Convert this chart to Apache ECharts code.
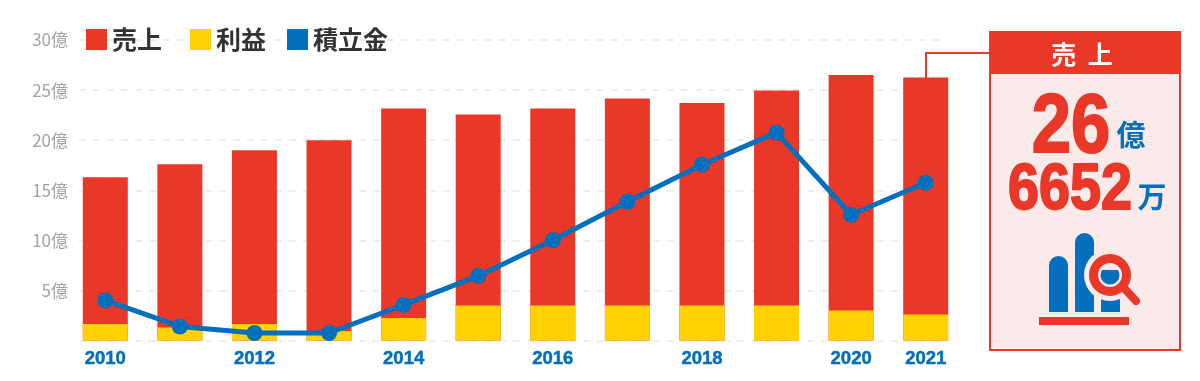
<!DOCTYPE html>
<html lang="ja">
<head>
<meta charset="utf-8">
<title>売上 利益 積立金</title>
<script src="https://cdn.jsdelivr.net/npm/echarts@6/dist/echarts.min.js"></script>
<style>
  html, body { margin: 0; padding: 0; background: #fff; }
  #chart { width: 1200px; height: 381px; }
</style>
</head>
<body>
<div id="chart"></div>
<script>
const years = ['2010', '2011', '2012', '2013', '2014', '2015', '2016', '2017', '2018', '2019', '2020', '2021']
const shownYears = ['2010', '2012', '2014', '2016', '2018', '2020', '2021']
const sales = [16.3, 17.6, 19.0, 20.0, 23.15, 22.55, 23.15, 24.15, 23.7, 24.95, 26.5, 26.25]
const profit = [1.65, 1.3, 1.65, 0.95, 2.25, 3.5, 3.5, 3.5, 3.5, 3.5, 3.0, 2.6]
const reserve = [4.0, 1.4, 0.75, 0.75, 3.55, 6.45, 10.0, 13.85, 17.55, 20.75, 12.55, 15.75]

const RED = '#e93828'
const YELLOW = '#ffd200'
const BLUE = '#0470bd'
const PANEL = '#faeaea'
const JP = '"Noto Sans CJK JP", "Noto Sans", sans-serif'
const LATIN = '"Liberation Sans", sans-serif'

const legendText = { fontFamily: JP, fontSize: 25, fontWeight: 'bold', color: '#333333', padding: [0, 0, 0, 0] }
const legendBase = { top: 27, padding: 0, itemWidth: 21, itemHeight: 21, itemGap: 0, icon: 'rect', selectedMode: false, textStyle: legendText }

// right hand callout, drawn on top of the chart
const calloutGraphic = [
  { type: 'polyline', shape: { points: [[926, 78], [926, 53], [990, 53]] }, style: { fill: 'none', stroke: RED, lineWidth: 2 } },
  { type: 'rect', shape: { x: 990, y: 32, width: 190, height: 318 }, style: { fill: PANEL, stroke: RED, lineWidth: 2 } },
  { type: 'rect', shape: { x: 989, y: 31, width: 192, height: 43 }, style: { fill: RED } },
  { type: 'text', style: { x: 1082, y: 54, text: '売  上', align: 'center', verticalAlign: 'middle', fontFamily: JP, fontSize: 25, fontWeight: 'bold', fill: '#fff' } },
  { type: 'text', x: 1071, y: 129, scaleX: 0.84, style: { x: 0, y: 0, text: '26', align: 'center', verticalAlign: 'middle', fontFamily: LATIN, fontSize: 84, fontWeight: 'bold', fill: RED, stroke: RED, lineWidth: 2 } },
  { type: 'text', style: { x: 1131, y: 135, text: '億', align: 'center', verticalAlign: 'middle', fontFamily: JP, fontSize: 29, fontWeight: 'bold', fill: BLUE } },
  { type: 'text', x: 1070, y: 191, scaleX: 0.87, style: { x: 0, y: 0, text: '6652', align: 'center', verticalAlign: 'middle', fontFamily: LATIN, fontSize: 64, fontWeight: 'bold', fill: RED, stroke: RED, lineWidth: 2 } },
  { type: 'text', style: { x: 1152, y: 197, text: '万', align: 'center', verticalAlign: 'middle', fontFamily: JP, fontSize: 29, fontWeight: 'bold', fill: BLUE } },
  // icon
  { type: 'rect', shape: { x: 1049, y: 256, width: 19, height: 56, r: [9.5, 9.5, 0, 0] }, style: { fill: BLUE } },
  { type: 'rect', shape: { x: 1075, y: 233, width: 19, height: 79, r: [9.5, 9.5, 0, 0] }, style: { fill: BLUE } },
  { type: 'rect', shape: { x: 1101, y: 295, width: 19, height: 17 }, style: { fill: BLUE } },
  { type: 'circle', shape: { cx: 1110, cy: 275, r: 26 }, style: { fill: PANEL } },
  { type: 'circle', shape: { cx: 1110, cy: 275, r: 9.5 }, style: { fill: BLUE } },
  { type: 'rect', shape: { x: 1098, y: 262, width: 24, height: 8 }, style: { fill: PANEL } },
  { type: 'circle', shape: { cx: 1110, cy: 275, r: 16.5 }, style: { fill: 'none', stroke: RED, lineWidth: 9 } },
  { type: 'line', shape: { x1: 1124, y1: 288, x2: 1136, y2: 301 }, style: { stroke: RED, lineWidth: 8, lineCap: 'round' } },
  { type: 'rect', shape: { x: 1039, y: 317, width: 90, height: 8 }, style: { fill: RED } }
]

const chart = echarts.init(document.getElementById('chart'))

chart.setOption({
  animation: false,
  backgroundColor: '#fff',
  legend: [
    { ...legendBase, left: 86, data: ['売上'] },
    { ...legendBase, left: 190, data: ['利益'] },
    { ...legendBase, left: 287, data: ['積立金'] }
  ],
  // grid 0 carries the bars, grid 1 only the shorter dashed gridlines and labels
  grid: [
    { left: 68, right: 237, top: 40, bottom: 40.5 },
    { left: 79, right: 252, top: 40, bottom: 40.5 }
  ],
  xAxis: [
    {
      type: 'category',
      data: years,
      axisLine: { show: false },
      axisTick: { show: false },
      axisLabel: {
        interval: (i, name) => shownYears.includes(name),
        margin: 9,
        fontFamily: LATIN,
        fontSize: 18.5,
        fontWeight: 'bold',
        color: BLUE,
        textBorderColor: BLUE,
        textBorderWidth: 0.5
      }
    },
    { type: 'category', gridIndex: 1, data: years, show: false }
  ],
  yAxis: [
    { type: 'value', min: 0, max: 30, interval: 5, show: false, splitLine: { show: false } },
    {
      type: 'value',
      gridIndex: 1,
      min: 0,
      max: 30,
      interval: 5,
      axisLine: { show: false },
      axisTick: { show: false },
      axisLabel: {
        margin: 11,
        fontFamily: JP,
        fontSize: 17,
        color: '#a3a3a3',
        formatter: v => (v === 0 ? '' : v + '億')
      },
      splitLine: { lineStyle: { color: '#eeeeee', width: 2, type: [7, 7] } }
    }
  ],
  series: [
    { name: '売上', type: 'bar', data: sales, barWidth: 45, barGap: '-100%', itemStyle: { color: RED } },
    { name: '利益', type: 'bar', data: profit, barWidth: 45, barGap: '-100%', itemStyle: { color: YELLOW } },
    {
      name: '積立金',
      type: 'line',
      data: reserve,
      symbol: 'circle',
      symbolSize: 16,
      lineStyle: { color: BLUE, width: 5 },
      itemStyle: { color: BLUE }
    }
  ],
  graphic: calloutGraphic
})
</script>
</body>
</html>
